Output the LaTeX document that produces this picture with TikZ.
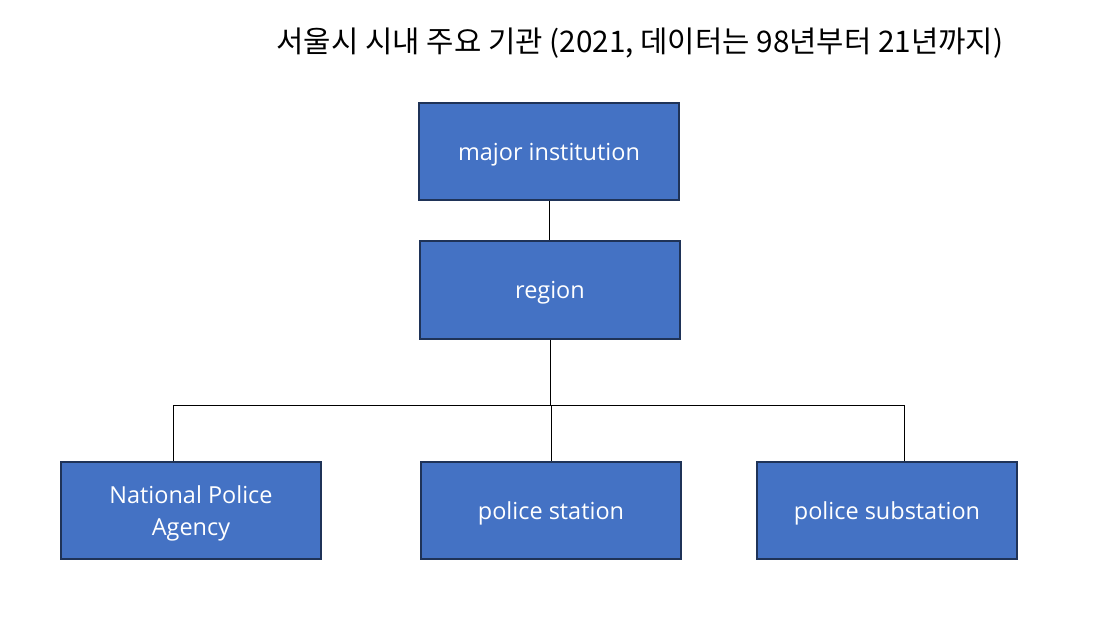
\documentclass[tikz,border=0pt]{standalone}
\usepackage{fontspec}
\setmainfont{Open Sans}
\newfontfamily\krfont{Noto Sans CJK KR}
\definecolor{boxblue}{HTML}{4472C4}
\definecolor{boxedge}{HTML}{1F3358}

\begin{document}
\begin{tikzpicture}[x=0.75pt,y=-0.75pt]

\useasboundingbox (0,0) rectangle (1093,633);

\node(title) at(640,43) {\krfont\fontsize{22.3}{26}\selectfont 서울시 시내 주요 기관 (2021, 데이터는 98년부터 21년까지)};

\begin{scope}[every node/.style={draw=boxedge, line width=1.4pt, fill=boxblue, text=white,
  minimum width=195pt, minimum height=73pt, align=center, inner sep=0pt, text depth=0pt,
  font=\fontsize{17.6}{24}\selectfont}]
\node(major) at(549,151.5) {major institution};
\node(region) at(550,290) {region};
\node(npa) at(191,510.5) {National Police\\Agency};
\node(station) at(551,510.5) {police station};
\node(substation) at(887,510.5) {police substation};
\end{scope}

\coordinate(busl) at(173,405);
\coordinate(busr) at(904,405);

\draw[line width=0.75pt]
(major.south) -- (major.south |- region.north)
;
\draw[line width=0.75pt]
(region.south) -- (region.south |- busl)
(busl) -- (busr)
(busl) -- (busl |- npa.north)
(station.north) -- (station.north |- busl)
(busr) -- (busr |- substation.north)
;

\end{tikzpicture}
\end{document}
